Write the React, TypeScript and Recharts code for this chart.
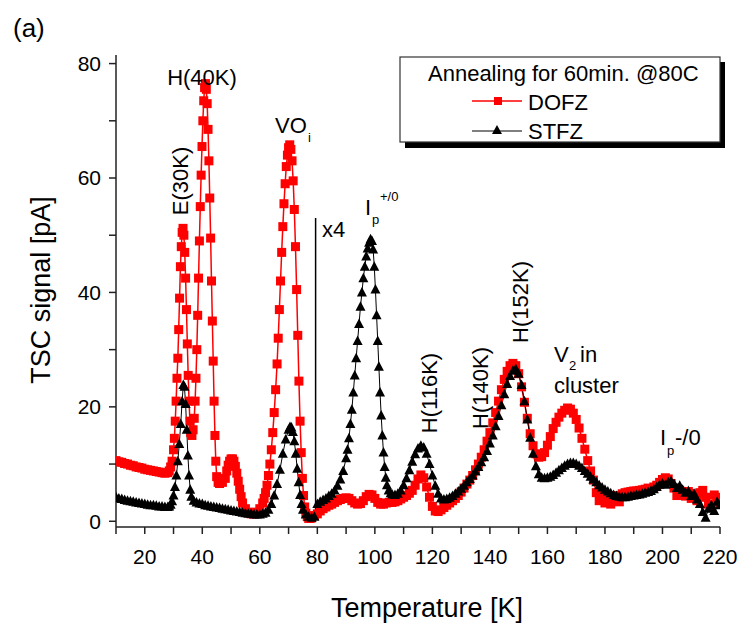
import React from "react";
import { LineChart, Line, XAxis, YAxis, ReferenceLine } from "recharts";

// DOFZ (red squares)
const dofzT = [
  10, 11, 12, 13, 14, 15, 16, 17, 18, 19, 20, 21, 22, 23, 24, 25, 26, 27, 28,
  28.5, 29, 29.5, 30, 30.3, 30.6, 30.9, 31.2, 31.5, 31.8, 32.1, 32.4, 32.7, 33, 33.3, 33.6, 33.9,
  34.2, 34.5, 34.8, 35.1, 35.4, 35.7, 36, 36.4, 36.8, 37.2, 37.5, 37.8, 38.1, 38.4, 38.7, 39,
  39.3, 39.6, 39.9, 40.2, 40.5, 40.8, 41.1, 41.4, 41.7, 42, 42.3, 42.6, 42.9, 43.2, 43.5, 43.8,
  44.1, 44.4, 44.7, 45, 45.5, 46, 47, 48, 48.5, 49, 49.5, 50, 50.5, 51, 51.5, 52, 52.5, 53,
  53.5, 54, 55, 56, 57, 58, 59, 60, 61, 61.5, 62, 62.5, 63, 63.5, 64, 64.5, 65, 65.5, 66,
  66.4, 66.8, 67.2, 67.6, 68, 68.4, 68.8, 69.2, 69.6, 70, 70.4, 70.8, 71.2, 71.6, 72, 72.4,
  72.8, 73.2, 73.6, 74, 74.4, 74.8, 75.2, 75.6, 76, 76.5, 77, 77.5, 78, 79,
  80, 81, 82, 83, 84, 85, 86, 87, 88, 89, 90, 91, 92, 93, 94, 95, 96, 97, 98, 99, 100,
  101, 102, 103, 104, 105, 106, 107, 108, 109, 110, 111, 112, 113, 114, 115, 116, 117, 118,
  119, 120, 121, 122, 123, 124, 125, 126, 127, 128, 129, 130, 131, 132, 133, 134, 135, 136,
  137, 138, 139, 140, 141, 142, 143, 144, 145, 146, 147, 148, 149, 150, 151, 152, 153, 154,
  155, 156, 157, 158, 159, 160, 161, 162, 163, 164, 165, 166, 167, 168, 169, 170, 171, 172,
  173, 174, 175, 176, 177, 178, 179, 180, 181, 182, 183, 184, 185, 186, 187, 188, 189, 190,
  191, 192, 193, 194, 195, 196, 197, 198, 199, 200, 201, 202, 203, 204, 205, 206, 207, 208,
  209, 210, 211, 212, 213, 214, 215, 216, 217, 218, 219, 220,
];
const dofzV = [
  10.6, 10.4, 10.3, 10.1, 10.0, 9.8, 9.7, 9.5, 9.4, 9.3, 9.1, 9.0, 8.9, 8.8, 8.7, 8.6, 8.5, 8.4, 8.5,
  8.8, 9.5, 10.5, 12.5, 14.5, 17.5, 21, 25, 28.5, 33.5, 39, 44.5, 48, 50.5, 51.2, 50, 47,
  42.5, 37, 31, 25.5, 21, 17.5, 15.5, 15, 16, 18, 21, 25, 30, 36, 42.5, 49,
  55, 60.5, 65.5, 70, 73.5, 75.8, 76.5, 75.5, 73, 68.5, 63, 56.5, 49.5, 42, 35, 28,
  21, 15, 10.5, 7.8, 6.8, 6.6, 6.8, 7.5, 8.8, 9.8, 10.5, 10.9, 10.9, 10.5, 9.6, 8.4, 7.0, 5.6,
  4.3, 3.2, 2.2, 1.6, 1.3, 1.3, 1.6, 2.2, 3.2, 4.0, 5.0, 6.3, 8.0, 10.0, 12.5, 15.5, 19, 23, 27.5,
  32, 37, 42, 47, 51.5, 55.5, 59, 62, 64, 65.3, 65.8, 65, 63, 59.5, 54.5, 48,
  40.5, 32.5, 24.5, 17.5, 12, 7.5, 4.5, 2.5, 1.4, 0.8, 0.5, 0.5, 0.6, 1.0,
  1.3, 1.8, 2.2, 2.5, 2.8, 3.0, 3.3, 3.6, 3.8, 4.0, 4.1, 4.0, 3.6, 3.2, 3.0, 3.1, 3.6, 4.3, 4.7, 4.6, 4.0,
  3.3, 3.0, 3.0, 3.2, 3.3, 3.3, 3.4, 3.6, 3.9, 4.2, 4.5, 4.9, 5.4, 6.3, 7.4, 8.1, 7.6, 6.0,
  4.2, 2.6, 1.8, 1.7, 2.0, 2.4, 2.8, 3.2, 3.6, 4.0, 4.5, 5.1, 5.8, 6.5, 7.2, 8.0, 9.0, 10.0,
  11.2, 12.5, 14.0, 15.5, 17.2, 19.0, 21.0, 23.0, 24.8, 26.2, 27.2, 27.6, 27.2, 25.8, 23.5, 20.8, 18.0, 15.3,
  13.2, 11.8, 11.2, 11.3, 12.0, 13.3, 14.8, 16.2, 17.3, 18.2, 18.9, 19.4, 19.8, 19.6, 18.9, 17.8, 16.3, 14.5,
  12.6, 10.6, 8.8, 7.2, 5.0, 3.6, 4.8, 3.2, 4.2, 3.0, 3.8, 4.5, 3.4, 4.8, 5.0, 5.1, 5.2, 5.3,
  5.3, 5.4, 5.5, 5.6, 5.8, 5.7, 6.0, 6.3, 6.8, 7.3, 7.6, 7.4, 6.6, 5.8, 4.5, 5.4, 5.0, 4.4,
  5.2, 4.0, 4.8, 3.6, 5.0, 5.4, 4.2, 3.0, 2.4, 4.6, 3.3, 4.2,
];

// STFZ (black triangles)
const stfzT = [
  10, 11, 12, 13, 14, 15, 16, 17, 18, 19, 20, 21, 22, 23, 24, 25, 26, 27, 28,
  28.5, 29, 29.5, 30, 30.5, 31, 31.5, 32, 32.5, 33, 33.4, 33.8, 34.2, 34.6, 35, 35.4, 35.8, 36.2,
  37, 38, 39, 40, 41, 42, 43, 44, 45, 46, 47, 48, 49, 50, 51, 52, 53, 54, 55, 56, 57, 58, 59,
  60, 61, 62, 63, 64, 65, 66, 67, 68, 69, 70, 70.5, 71, 71.5, 72, 72.5, 73, 73.5, 74, 74.5,
  75, 76, 77, 78, 79, 80, 81, 82, 83, 84, 85, 86, 87, 88, 89, 90, 90.5, 91, 91.5, 92, 92.5,
  93, 93.5, 94, 94.5, 95, 95.5, 96, 96.5, 97, 97.5, 98, 98.5, 99, 99.4, 99.8, 100.2, 100.6,
  101, 101.4, 101.8, 102.2, 102.6, 103, 103.4, 103.8, 104.2, 104.8, 105.5, 106, 107, 108, 109,
  110, 111, 112, 113, 114, 115, 116, 117, 118, 119, 120, 121, 122, 123, 124, 125, 126, 127,
  128, 129, 130, 131, 132, 133, 134, 135, 136, 137, 138, 139, 140, 141, 142, 143, 144, 145,
  146, 147, 148, 149, 150, 151, 152, 153, 154, 155, 156, 157, 158, 159, 160, 161, 162, 163,
  164, 165, 166, 167, 168, 169, 170, 171, 172, 173, 174, 175, 176, 177, 178, 179, 180, 181,
  182, 183, 184, 185, 186, 187, 188, 189, 190, 191, 192, 193, 194, 195, 196, 197, 198, 199,
  200, 201, 202, 203, 204, 205, 206, 207, 208, 209, 210, 211, 212, 213, 214, 215, 216, 217,
  218, 219, 220,
];
const stfzV = [
  4.2, 4.0, 3.9, 3.7, 3.6, 3.5, 3.4, 3.3, 3.2, 3.1, 3.0, 2.9, 2.8, 2.8, 2.7, 2.6, 2.6, 2.5, 2.5,
  2.6, 2.9, 3.5, 4.5, 6, 8, 10.5, 13.5, 17, 21, 23.8, 23.5, 20.5, 16, 11.5, 8, 5.5, 4.3,
  3.6, 3.3, 3.1, 3.0, 2.8, 2.7, 2.6, 2.5, 2.4, 2.3, 2.2, 2.1, 2.0, 1.9, 1.8, 1.7, 1.6, 1.5, 1.4, 1.3, 1.3, 1.2, 1.2,
  1.2, 1.3, 1.5, 2.0, 3.0, 4.5, 6.5, 9.0, 11.8, 14.3, 16.0, 16.5, 16.4, 15.6, 14.0, 11.8, 9.2, 6.8, 4.6, 3.0,
  2.0, 1.2, 0.8, 0.6, 0.8, 3.0, 3.4, 3.7, 4.0, 4.4, 4.8, 5.4, 6.2, 7.3, 8.8, 11, 12.5, 14.5, 17, 19.5, 22.5,
  25.5, 28.5, 31.5, 34.5, 37.5, 40, 42.5, 44.5, 46.3, 47.7, 48.7, 49.3, 49.0, 47.5, 44.5, 40.5, 36,
  31.5, 27, 22.5, 18.5, 15, 12, 9.5, 7.6, 6.3, 5.4, 4.9, 4.7, 4.6, 4.8, 5.4,
  6.3, 7.5, 8.9, 10.4, 11.7, 12.7, 13.2, 12.9, 11.8, 10.0, 8.0, 6.2, 4.8, 4.0, 3.8, 3.9, 4.1, 4.4,
  4.8, 5.2, 5.7, 6.2, 6.8, 7.4, 8.0, 8.7, 9.5, 10.3, 11.2, 12.3, 13.6, 15.0, 16.6, 18.4, 20.3, 22.2,
  24.0, 25.4, 26.3, 26.6, 25.8, 23.8, 21.0, 17.8, 14.6, 11.8, 9.6, 8.2, 7.6, 7.5, 7.6, 7.8, 8.1, 8.5,
  8.9, 9.3, 9.7, 10.0, 10.2, 10.2, 10.0, 9.7, 9.3, 8.8, 8.3, 7.8, 7.3, 6.8, 6.3, 5.9, 5.5, 5.2,
  4.9, 4.6, 4.4, 4.3, 4.2, 4.2, 4.3, 4.4, 4.5, 4.6, 4.7, 4.8, 5.0, 5.1, 5.3, 5.6, 6.0, 6.4,
  6.6, 6.4, 6.8, 7.0, 6.5, 5.8, 6.2, 5.5, 5.0, 5.3, 4.4, 4.8, 3.8, 3.0, 1.6, 0.6, 2.2, 2.8,
  1.8, 3.4, 2.8,
];

const xTicks = [10, 20, 30, 40, 50, 60, 70, 80, 90, 100, 110, 120, 130, 140, 150, 160, 170, 180, 190, 200, 210, 220];
const yTicks = [0, 10, 20, 30, 40, 50, 60, 70, 80];

const dofz = dofzT.map((t, i) => ({ t, v: dofzV[i] }));
const stfz = stfzT.map((t, i) => ({ t, v: stfzV[i] }));

const FONT = "'Liberation Sans', Arial, sans-serif";
const RED = "#ff0000";

const Square = (props: any) => {
  const { cx, cy, index } = props;
  if (cx == null || cy == null) return <g key={index} />;
  return <rect key={index} x={cx - 4.5} y={cy - 4.5} width={9} height={9} fill={RED} />;
};

const Triangle = (props: any) => {
  const { cx, cy, index } = props;
  if (cx == null || cy == null) return <g key={index} />;
  return <path key={index} d={`M${cx},${cy - 5.5} L${cx + 5},${cy + 4} L${cx - 5},${cy + 4} Z`} fill="#000" />;
};

const Overlay = () => (
  <svg width={742} height={636} style={{ position: "absolute", left: 0, top: 0, pointerEvents: "none" }} fontFamily={FONT}>
    <text x={13} y={37} fontSize={26}>(a)</text>

    {/* legend */}
    <rect x={405} y={62} width={320} height={86} fill="#000" />
    <rect x={400} y={57} width={320} height={85} fill="#fff" stroke="#333" strokeWidth={1.2} />
    <text x={428} y={81} fontSize={22}>Annealing for 60min. @80C</text>
    <line x1={472} y1={101} x2={522} y2={101} stroke={RED} strokeWidth={1.5} />
    <rect x={494} y={97} width={8} height={8} fill={RED} />
    <text x={528} y={110} fontSize={22}>DOFZ</text>
    <line x1={472} y1={131} x2={522} y2={131} stroke="#000" strokeWidth={1} />
    <path d="M497,125 L502,134 L492,134 Z" fill="#000" />
    <text x={528} y={139} fontSize={22}>STFZ</text>

    {/* peak labels */}
    <text x={202} y={85} fontSize={22} textAnchor="middle">H(40K)</text>
    <text transform="translate(188,181) rotate(-90)" fontSize={22} textAnchor="middle">E(30K)</text>
    <text x={275} y={133} fontSize={22}>VO</text>
    <text x={308} y={142} fontSize={13}>i</text>
    <text x={322} y={237} fontSize={22}>x4</text>
    <text x={365} y={215} fontSize={22}>I</text>
    <text x={372} y={224} fontSize={13}>p</text>
    <text x={380} y={201} fontSize={13}>+/0</text>
    <text transform="translate(437,393) rotate(-90)" fontSize={22} textAnchor="middle">H(116K)</text>
    <text transform="translate(488,388) rotate(-90)" fontSize={22} textAnchor="middle">H(140K)</text>
    <text transform="translate(528,302) rotate(-90)" fontSize={22} textAnchor="middle">H(152K)</text>
    <text x={554} y={362} fontSize={22}>V</text>
    <text x={569} y={370} fontSize={13}>2</text>
    <text x={580} y={362} fontSize={22}>in</text>
    <text x={554} y={393} fontSize={22}>cluster</text>
    <text x={660} y={445} fontSize={22}>I</text>
    <text x={667} y={455} fontSize={13}>p</text>
    <text x={675} y={445} fontSize={22}>-/0</text>

    {/* axis titles */}
    <text x={427} y={617} fontSize={27} textAnchor="middle">Temperature [K]</text>
    <text transform="translate(50,290) rotate(-90)" fontSize={27} textAnchor="middle">TSC signal [pA]</text>
  </svg>
);

export default function App() {
  return (
    <div style={{ position: "absolute", left: 0, top: 0, width: 742, height: 636, background: "#fff" }}>
      <LineChart width={742} height={636} margin={{ top: 55, right: 22, left: 56, bottom: 0 }}>
        <XAxis
          type="number"
          dataKey="t"
          domain={[10, 220]}
          ticks={xTicks}
          allowDataOverflow
          height={109}
          stroke="#222"
          strokeWidth={1.5}
          tickSize={7}
          tickMargin={15}
          tickFormatter={(v: number) => (v % 20 === 0 ? String(v) : "")}
          tick={{ fill: "#000", fontSize: 21, fontFamily: FONT }}
        />
        <XAxis xAxisId="top" orientation="top" type="number" domain={[10, 220]} height={0} tick={false} tickLine={false} stroke="#222" strokeWidth={1.5} />
        <YAxis
          type="number"
          domain={[-1, 81.5]}
          ticks={yTicks}
          allowDataOverflow
          width={60}
          stroke="#222"
          strokeWidth={1.5}
          tickSize={7}
          tickMargin={8}
          tickFormatter={(v: number) => (v % 20 === 0 ? String(v) : "")}
          tick={{ fill: "#000", fontSize: 21, fontFamily: FONT }}
        />
        <YAxis yAxisId="right" orientation="right" domain={[-1, 81.5]} width={0} tick={false} tickLine={false} stroke="#222" strokeWidth={1.5} />
        <ReferenceLine segment={[{ x: 79.4, y: 0.3 }, { x: 79.4, y: 53 }]} stroke="#000" strokeWidth={1.5} />
        <Line data={dofz} dataKey="v" type="linear" stroke={RED} strokeWidth={1.5} dot={Square} activeDot={false} isAnimationActive={false} />
        <Line data={stfz} dataKey="v" type="linear" stroke="#000" strokeWidth={1} dot={Triangle} activeDot={false} isAnimationActive={false} />
      </LineChart>
      <Overlay />
    </div>
  );
}
